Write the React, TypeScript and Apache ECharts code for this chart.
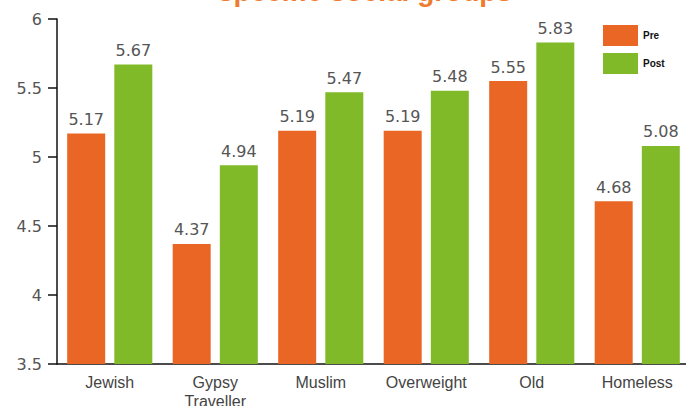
import React, { useEffect, useRef } from "react";
import * as echarts from "echarts";

const categories = ["Jewish", "Gypsy\nTraveller", "Muslim", "Overweight", "Old", "Homeless"];
const preValues = [5.17, 4.37, 5.19, 5.19, 5.55, 4.68];
const postValues = [5.67, 4.94, 5.47, 5.48, 5.83, 5.08];
const seriesNames = ["Pre", "Post"];
const titleText = "specific social groups";

const ORANGE = "#EA6625";
const GREEN = "#80BA29";
const FONT = "Liberation Sans, Arial, sans-serif";
const NUMFONT = "DejaVu Sans, sans-serif";

export default function App() {
  const ref = useRef<HTMLDivElement>(null);
  useEffect(() => {
    document.body.style.margin = "0";
    const chart = echarts.init(ref.current!, null, { renderer: "svg" });
    const labelCfg = {
      show: true,
      position: "top" as const,
      distance: 6,
      fontSize: 16,
      color: "#555",
      fontFamily: NUMFONT,
      formatter: (p: any) => p.value.toFixed(2),
    };
    chart.setOption({
      animation: false,
      backgroundColor: "#fff",
      graphic: [
        {
          type: "text",
          x: 365,
          y: -9,
          style: {
            text: titleText,
            fill: "#F07A2E",
            font: `bold 28px ${FONT}`,
            align: "center",
            verticalAlign: "middle",
          },
        },
      ],
      legend: {
        data: seriesNames,
        orient: "vertical",
        left: 598,
        top: 20,
        itemWidth: 35,
        itemHeight: 21,
        itemGap: 7,
        icon: "rect",
        textStyle: { fontSize: 10, fontWeight: "bold", color: "#111", fontFamily: FONT },
      },
      grid: { left: 57, right: -4, top: 19, bottom: 42, outerBoundsMode: "none" },
      xAxis: {
        type: "category",
        data: categories,
        axisLine: { lineStyle: { color: "#111", width: 1.5 } },
        axisTick: { inside: true, length: 9, lineStyle: { color: "#111", width: 1.5 } },
        axisLabel: { fontSize: 16, color: "#444", fontFamily: FONT, margin: 9, lineHeight: 19, interval: 0 },
      },
      yAxis: {
        type: "value",
        min: 3.5,
        max: 6,
        interval: 0.5,
        axisLine: { show: true, lineStyle: { color: "#111", width: 1.5 } },
        axisTick: { show: true, length: 9, lineStyle: { color: "#111", width: 1.5 } },
        splitLine: { show: false },
        axisLabel: { fontSize: 16, color: "#555", fontFamily: NUMFONT, margin: 15 },
      },
      series: [
        {
          name: seriesNames[0],
          type: "bar",
          data: preValues,
          barWidth: 38,
          barGap: "24%",
          itemStyle: { color: ORANGE },
          label: labelCfg,
        },
        {
          name: seriesNames[1],
          type: "bar",
          data: postValues,
          barWidth: 38,
          barGap: "24%",
          itemStyle: { color: GREEN },
          label: labelCfg,
        },
      ],
    });
    return () => chart.dispose();
  }, []);
  return <div ref={ref} style={{ width: 686, height: 406 }} />;
}
